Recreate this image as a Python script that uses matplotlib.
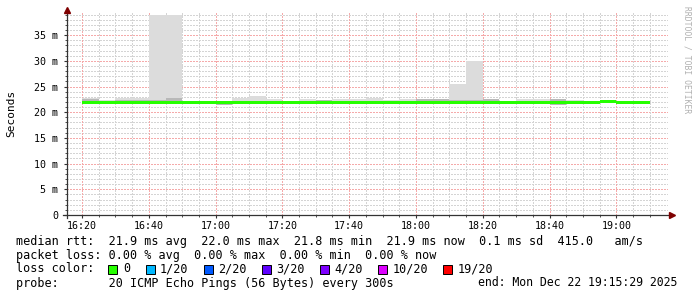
import matplotlib
matplotlib.use("Agg")
import matplotlib.pyplot as plt
import numpy as np
from matplotlib.patches import Rectangle

# ── data: 5-minute bins from 16:20 to 19:10 (minutes after 16:00) ──
bin_start = np.arange(20, 190, 5)
median_ms = [21.9, 21.85, 21.9, 21.9, 21.9, 21.95, 21.9, 21.85, 21.85, 21.9,
             21.9, 21.9, 21.9, 21.9, 21.9, 21.9, 21.9, 21.9, 21.9, 21.9,
             21.85, 21.9, 21.9, 21.9, 21.9, 21.9, 21.9, 21.9, 21.85, 21.9,
             21.9, 22.15, 21.9, 21.85]
smoke_lo = [21.7, 21.7, 21.7, 21.7, 21.7, 21.7, 21.7, 21.6, 21.4, 21.7,
            21.7, 21.7, 21.7, 21.7, 21.7, 21.7, 21.7, 21.7, 21.7, 21.7,
            21.5, 21.7, 21.7, 21.7, 21.7, 21.7, 21.7, 21.7, 21.4, 21.7,
            21.7, 21.8, 21.7, 21.5]
smoke_hi = [22.7, 22.3, 22.7, 22.7, 38.9, 38.9, 22.2, 22.2, 22.2, 22.8,
            23.2, 22.55, 22.2, 22.6, 22.4, 22.5, 22.5, 22.75, 22.4, 22.55,
            22.6, 22.5, 25.4, 30.0, 22.5, 22.2, 22.5, 22.5, 22.6, 22.3,
            22.1, 22.4, 22.1, 22.2]
smoke_mid = [22.6, 22.2, 22.3, 22.3, 22.3, 22.7, 22.1, 22.1, 22.1, 22.2,
             22.2, 22.2, 22.1, 22.2, 22.4, 22.2, 22.2, 22.2, 22.2, 22.2,
             22.6, 22.5, 22.3, 22.3, 22.5, 22.1, 22.2, 22.2, 22.6, 22.2,
             22.1, 22.3, 22.1, 22.1]

x_ticks = [20, 40, 60, 80, 100, 120, 140, 160, 180]
x_labels = ["16:20", "16:40", "17:00", "17:20", "17:40", "18:00", "18:20", "18:40", "19:00"]
y_ticks = [0, 5, 10, 15, 20, 25, 30, 35]

loss_labels = ["0", "1/20", "2/20", "3/20", "4/20", "10/20", "19/20"]
loss_colors = ["#26ff00", "#00b8ff", "#0059ff", "#5e00ff", "#7e00ff", "#dd00ff", "#ff0000"]

legend_lines = [
    "median rtt:  21.9 ms avg  22.0 ms max  21.8 ms min  21.9 ms now  0.1 ms sd  415.0   am/s",
    "packet loss: 0.00 % avg  0.00 % max  0.00 % min  0.00 % now",
    "loss color:",
    "probe:       20 ICMP Echo Pings (56 Bytes) every 300s",
]
end_text = "end: Mon Dec 22 19:15:29 2025"

W, H = 697, 297
MONO = "DejaVu Sans Mono"


def fx(x):
    return x / W


def fy(y):
    return 1 - y / H


fig = plt.figure(figsize=(W / 100, H / 100), dpi=100)
ax = fig.add_axes([fx(67), 82 / H, 601 / W, 202 / H])

t0, t1 = 15 + 29 / 60, 195 + 29 / 60
ax.set_xlim(t0, t1)
ax.set_ylim(0, 39.3)

# step arrays (extend last bin to its end)
edges = np.append(bin_start, bin_start[-1] + 5)
def ext(v):
    return np.append(v, v[-1])

ax.fill_between(edges, ext(smoke_lo), ext(smoke_hi), step="post",
                color="#dcdcdc", linewidth=0, zorder=2)
ax.fill_between(edges, ext(smoke_lo), ext(smoke_mid), step="post",
                color="#b8b8b8", linewidth=0, zorder=3)
med = np.array(median_ms)
ax.fill_between(edges, ext(med - 0.32), ext(med + 0.32), step="post",
                color=loss_colors[0], linewidth=0, zorder=4)

# dotted grid, rrdtool style
dot = dict(lw=0.72, ls=(0, (1.4, 1.4)), antialiased=False, zorder=1)
for v in np.arange(1, 40, 1):
    if v % 5:
        ax.axhline(v, color="#d4d4d4", **dot)
for v in y_ticks[1:]:
    ax.axhline(v, color="#f5aaaa", **dot)
for v in np.arange(20, 195, 5):
    if v % 20:
        ax.axvline(v, color="#d4d4d4", **dot)
for v in x_ticks:
    ax.axvline(v, color="#f5aaaa", **dot)

for s in ax.spines.values():
    s.set_visible(False)

# axes lines with arrows
ax.plot([0, 0], [-3 / 202, 1.0], transform=ax.transAxes, color="#333333",
        lw=0.9, clip_on=False, zorder=6)
ax.plot([-4 / 601, 1.0], [0, 0], transform=ax.transAxes, color="#333333",
        lw=0.9, clip_on=False, zorder=6)
ax.plot([0], [1.017], transform=ax.transAxes, marker="^", ms=4.5,
        color="#7f0000", clip_on=False, zorder=7)
ax.plot([1.006], [0], transform=ax.transAxes, marker=">", ms=4.5,
        color="#7f0000", clip_on=False, zorder=7)

ax.set_xticks(x_ticks)
ax.set_xticklabels(x_labels, fontfamily=MONO, fontsize=7.2)
ax.set_xticks(np.arange(20, 195, 5), minor=True)
ax.set_yticks(y_ticks)
ax.set_yticklabels([f"{v} m" if v else "0" for v in y_ticks], fontfamily=MONO, fontsize=7.2)
ax.set_yticks(np.arange(1, 40, 1), minor=True)
ax.tick_params(which="major", length=2.5, width=0.8, color="#333333", pad=2)
ax.tick_params(which="minor", length=1.5, width=0.6, color="#333333")
ax.tick_params(axis="y", which="major", pad=4)

fig.text(fx(11), fy(113), "Seconds", rotation=90, ha="center", va="center",
         fontfamily=MONO, fontsize=8)
fig.text(fx(687), fy(60), "RRDTOOL / TOBI OETIKER", rotation=270, ha="center",
         va="center", fontfamily=MONO, fontsize=5.8, color="#b0b0b0")

# legend block
row_y = [241, 255.5, 269, 283]
for y, s in zip(row_y, legend_lines):
    fig.text(fx(16), fy(y), s, ha="left", va="center", fontfamily=MONO, fontsize=8.45)
fig.text(fx(478), fy(283), end_text, ha="left", va="center", fontfamily=MONO, fontsize=8.3)

sq_x = [108, 146, 204, 262, 320, 378, 443]
txt_x = [123.5, 160, 218, 276, 334, 392.5, 457.5]
for x, tx, lab, c in zip(sq_x, txt_x, loss_labels, loss_colors):
    fig.patches.append(Rectangle((fx(x), fy(273.5)), 8.5 / W, 9 / H, transform=fig.transFigure,
                                 facecolor=c, edgecolor="black", lw=0.7))
    fig.text(fx(tx), fy(269), lab, ha="left", va="center", fontfamily=MONO, fontsize=8.45)

fig.savefig("out.png", dpi=100)
